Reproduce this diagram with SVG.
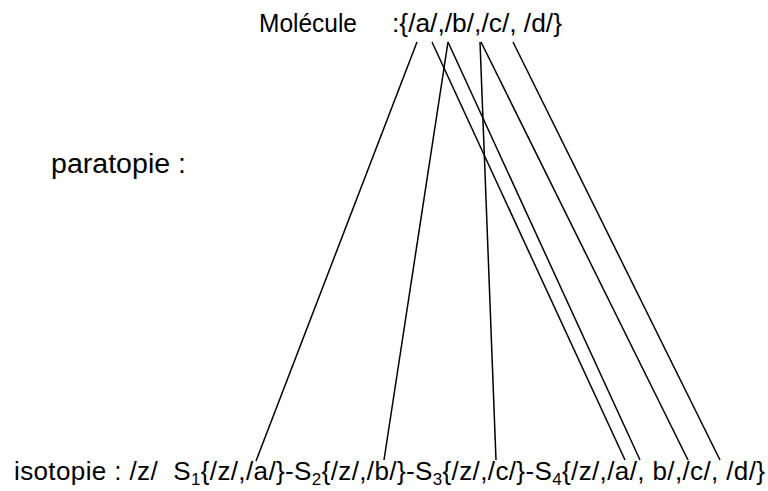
<svg xmlns="http://www.w3.org/2000/svg" width="768" height="491" viewBox="0 0 768 491">
<style>
text{font-family:"Liberation Sans",Arial,sans-serif;fill:#000;font-size:24px;white-space:pre}
.big{font-size:26.4px}
.sub{font-size:17px}
#connectors line{stroke:#000;stroke-width:1.5;fill:none}
</style>
<rect width="768" height="491" fill="#fff"/>
<g id="molecule"><text class="big" x="259" y="32" textLength="98" lengthAdjust="spacingAndGlyphs">Molécule</text><text class="big" x="392" y="32" textLength="170" lengthAdjust="spacingAndGlyphs">:{/a/,/b/,/c/, /d/}</text></g>
<g id="paratopie"><text x="51" y="173" style="font-size:27px" textLength="135" lengthAdjust="spacingAndGlyphs">paratopie :</text></g>
<g id="isotopie"><text x="14" y="480" style="font-size:26px" textLength="751" lengthAdjust="spacing">isotopie : /z/  S<tspan class="sub" dy="5">1</tspan><tspan dy="-5">{/z/,/a/}-S</tspan><tspan class="sub" dy="5">2</tspan><tspan dy="-5">{/z/,/b/}-S</tspan><tspan class="sub" dy="5">3</tspan><tspan dy="-5">{/z/,/c/}-S</tspan><tspan class="sub" dy="5">4</tspan><tspan dy="-5">{/z/,/a/, b/,/c/, /d/}</tspan></text></g>
<g id="connectors">
<line x1="417" y1="42" x2="256" y2="461"/>
<line x1="432" y1="42" x2="625" y2="460"/>
<line x1="448" y1="42" x2="384" y2="460"/>
<line x1="448" y1="42" x2="640" y2="460"/>
<line x1="480" y1="42" x2="496" y2="460"/>
<line x1="481" y1="42" x2="688" y2="460"/>
<line x1="513" y1="42" x2="720" y2="460"/>
</g>
</svg>
